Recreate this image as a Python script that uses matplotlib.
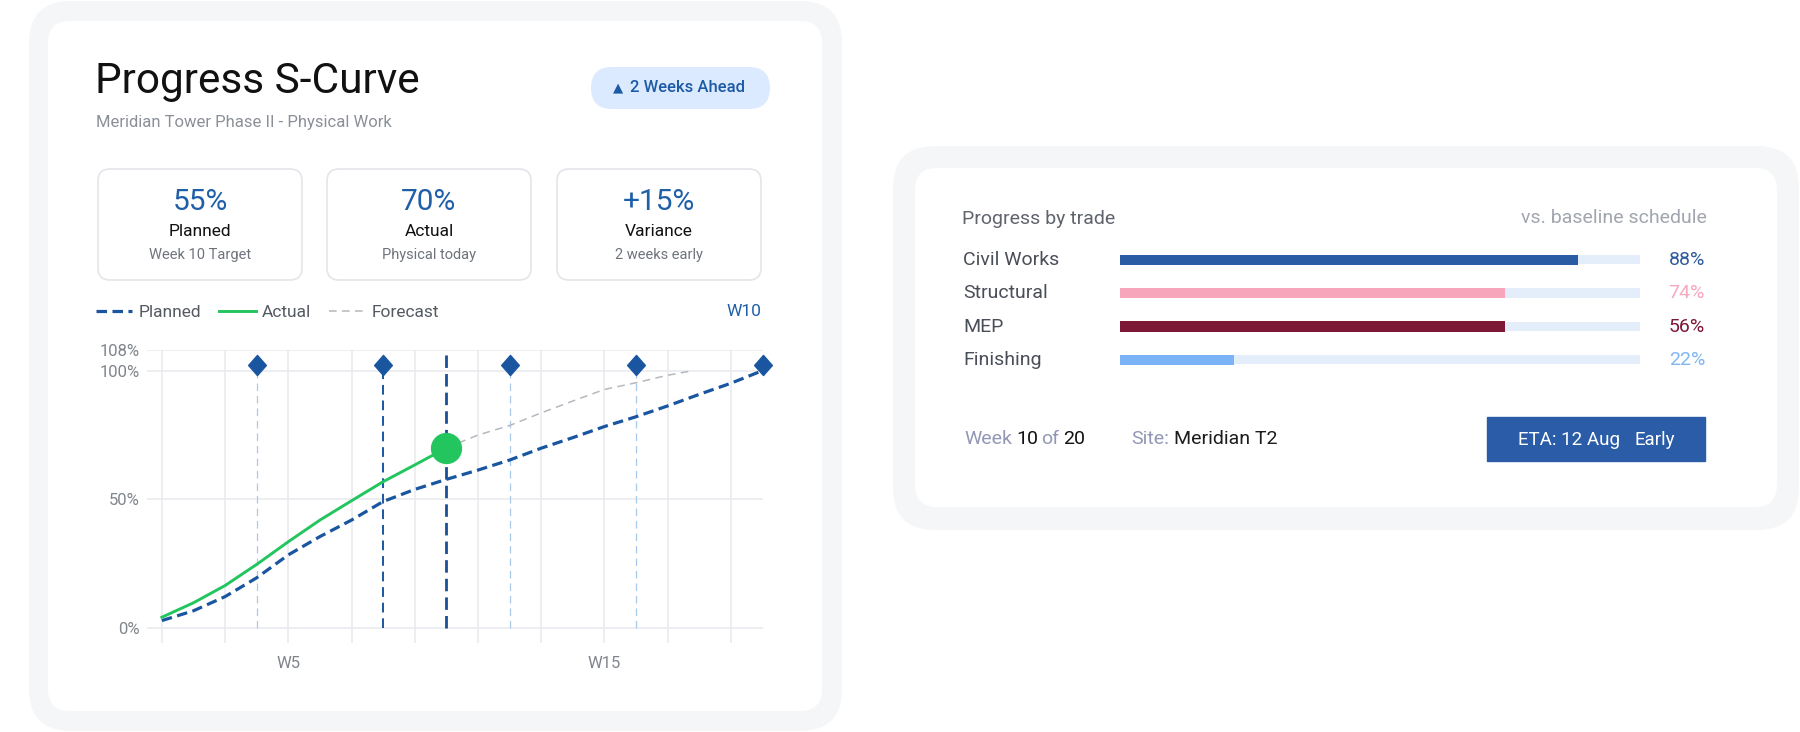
import matplotlib
matplotlib.use("Agg")
import matplotlib.pyplot as plt
from matplotlib.patches import FancyBboxPatch
from matplotlib.path import Path

W, H = 1800, 732
FONT = ["Roboto", "DejaVu Sans"]
plt.rcParams["font.family"] = FONT

# ---- data ----
weeks = list(range(1, 21))
planned = [3, 6.8, 12.3, 19.6, 28.5, 35.6, 42, 49.2, 53.9, 57.8,
           61.4, 65.3, 69.9, 74, 78.3, 82.1, 86.3, 90.8, 95.1, 100]
actual_weeks = list(range(1, 11))
actual = [4.3, 9.9, 16.6, 24.8, 33.6, 42, 49.5, 56.9, 63.4, 70]
forecast_weeks = [10, 11, 12, 13, 14, 15, 16, 17, 17.8]
forecast = [70, 75, 78.7, 83.6, 88.2, 92.7, 95.3, 98.2, 100]
milestones = [4, 8, 12, 16, 20]
milestone_hi = [False, True, False, False, False]
today = 10
grid_weeks = [1, 3, 5, 7, 9, 11, 13, 15, 17, 19]
week_labels = ["", "", "W5", "", "", "", "", "W15", "", ""]
y_ticks = [0, 50, 100, 108]
y_labels = ["0%", "50%", "100%", "108%"]

kpi_values = ["55%", "70%", "+15%"]
kpi_titles = ["Planned", "Actual", "Variance"]
kpi_notes = ["Week 10 Target", "Physical today", "2 weeks early"]

trades = ["Civil Works", "Structural", "MEP", "Finishing"]
trade_bar = [88, 74, 74, 22]
trade_pct = ["88%", "74%", "56%", "22%"]
trade_colors = ["#2a5ca4", "#f6a5bb", "#7d1836", "#7ab4f7"]
pct_colors = ["#2f5c9c", "#f5a8be", "#7d1836", "#80b6f3"]

BLUE = "#1a56a0"
GREEN = "#22c55e"


def fig_rect(x0, y0, x1, y1):
    return [x0 / W, 1 - y1 / H, (x1 - x0) / W, (y1 - y0) / H]


fig = plt.figure(figsize=(W / 100, H / 100), dpi=100)
bg = fig.add_axes([0, 0, 1, 1], zorder=0)
bg.set_xlim(0, W)
bg.set_ylim(H, 0)
bg.axis("off")


def card(x0, y0, x1, y1, r, fc, ec="none", lw=0):
    bg.add_patch(FancyBboxPatch((x0, y0), x1 - x0, y1 - y0,
                                boxstyle=f"round,pad=0,rounding_size={r}",
                                fc=fc, ec=ec, lw=lw))


# cards
card(29, 1, 842, 731, 42, "#f5f6f8")
card(48, 21, 822, 711, 22, "white")
card(893, 146, 1799, 530, 42, "#f5f6f8")
card(915, 168, 1777, 507, 22, "white")

# header
bg.text(95, 93, "Progress S-Curve", fontsize=30.5, color="#111111", va="baseline")
bg.text(96, 127, "Meridian Tower Phase II - Physical Work", fontsize=12,
        color="#8b9098", va="baseline")
card(591, 67, 770, 109, 21, "#dbeafe")
bg.text(618, 88, "\u25b2", fontsize=9.5, color="#1c5aa5", ha="center", va="center",
        family="DejaVu Sans")
bg.text(630, 88, "2 Weeks Ahead", fontsize=12, color="#1c5aa5", va="center",
        fontweight="medium")

# KPI boxes
box_x = [(98, 302), (327, 531), (557, 761)]
for (x0, x1), v, t, n in zip(box_x, kpi_values, kpi_titles, kpi_notes):
    card(x0, 169, x1, 280, 12, "white", "#e3e5e9", 1.2)
    cx = (x0 + x1) / 2
    bg.text(cx, 210, v, fontsize=21.5, color="#1f5fa8", ha="center", va="baseline")
    bg.text(cx, 236, t, fontsize=12.5, color="#111111", ha="center", va="baseline")
    bg.text(cx, 259, n, fontsize=10.5, color="#6f747c", ha="center", va="baseline")

bg.text(761, 312, "W10", fontsize=12.5, color="#1f5fa8", ha="right", va="center")

# ---- S-curve chart ----
ax = fig.add_axes(fig_rect(147, 350, 762.5, 643), zorder=1)
ax.set_facecolor("none")
ax.set_xlim(0.53, 20.0)
ax.set_ylim(-5.7, 108)
for s in ax.spines.values():
    s.set_visible(False)
ax.set_xticks(grid_weeks, week_labels)
ax.set_yticks(y_ticks, y_labels)
ax.tick_params(length=0, colors="#80858c", labelsize=12)
ax.tick_params(axis="y", pad=5)
ax.tick_params(axis="x", pad=9)
ax.grid(True, color="#e7e9ed", lw=1.1)
ax.set_axisbelow(True)

for m, hi in zip(milestones[:-1], milestone_hi[:-1]):
    if hi:
        ax.plot([m, m], [0, 100], color=BLUE, lw=1.4, dashes=(5, 3), zorder=2)
    else:
        ax.plot([m, m], [0, 100], color="#a9c9ea", lw=0.9, dashes=(6, 4), zorder=2)
ax.plot([today, today], [0, 108], color="#1a4f96", lw=2.0, dashes=(4.5, 2.2), zorder=2)

ln_p, = ax.plot(weeks, planned, color=BLUE, lw=2.3, dashes=(3.3, 1.7),
                label="Planned", zorder=3, solid_joinstyle="round")
ln_a, = ax.plot(actual_weeks, actual, color=GREEN, lw=2.1, label="Actual", zorder=4,
                solid_joinstyle="round")
ln_f, = ax.plot(forecast_weeks, forecast, color="#b5b8bd", lw=1.1, dashes=(5, 3.5),
                label="Forecast", zorder=3)
ax.plot([actual_weeks[-1]], [actual[-1]], "o", color=GREEN, ms=21.5, zorder=5)

diamond = Path([(0, 1), (0.88, 0), (0, -1), (-0.88, 0), (0, 1)],
               [Path.MOVETO, Path.LINETO, Path.LINETO, Path.LINETO, Path.CLOSEPOLY])
ax.plot(milestones, [102] * len(milestones), ls="none", marker=diamond, ms=14.5,
        color=BLUE, clip_on=False, zorder=6)

fig.legend(handles=[ln_p, ln_a, ln_f], loc="center left",
           bbox_to_anchor=(96 / W, 1 - 312 / H), ncol=3, frameon=False,
           fontsize=12.5, labelcolor="#555a62", handlelength=2.1,
           handletextpad=0.35, columnspacing=1.05, borderpad=0, borderaxespad=0)

# ---- progress by trade ----
bg.text(962, 219, "Progress by trade", fontsize=14, color="#5f636c", va="center")
bg.text(1707, 218, "vs. baseline schedule", fontsize=14, color="#a0a5ae",
        ha="right", va="center")

bx = fig.add_axes(fig_rect(1120, 243, 1640, 376.5), zorder=1)
bx.set_facecolor("none")
bx.axis("off")
bx.set_xlim(0, 100)
bx.set_ylim(len(trades) - 0.5, -0.5)
ypos = list(range(len(trades)))
bx.barh(ypos, [100] * len(trades), height=0.28, color="#e4eefb")
bx.barh(ypos, trade_bar, height=0.31, color=trade_colors)

row_y = [260, 293, 326.5, 360]
for y, name, pct, pc in zip(row_y, trades, trade_pct, pct_colors):
    bg.text(963, y, name, fontsize=14, color="#4a4e58", va="center")
    bg.text(1705, y, pct, fontsize=14, color=pc, ha="right", va="center")

# footer row
bg.text(964, 439, "Week", fontsize=14, color="#9297b5", va="center")
bg.text(1016, 439, "10", fontsize=14, color="#111111", va="center")
bg.text(1041, 439, "of", fontsize=14, color="#9297b5", va="center")
bg.text(1063, 439, "20", fontsize=14, color="#111111", va="center")
bg.text(1131, 439, "Site:", fontsize=14, color="#9297b5", va="center")
bg.text(1174, 439, "Meridian T2", fontsize=14, color="#1c1c1c", va="center")

bg.add_patch(plt.Rectangle((1487, 417), 218, 44, color="#2b5ca7"))
bg.text(1518, 440, "ETA: 12 Aug", fontsize=13.5, color="white", va="center")
bg.text(1635, 440, "Early", fontsize=13.5, color="white", va="center")

fig.savefig("out.png", dpi=100, facecolor="white")
